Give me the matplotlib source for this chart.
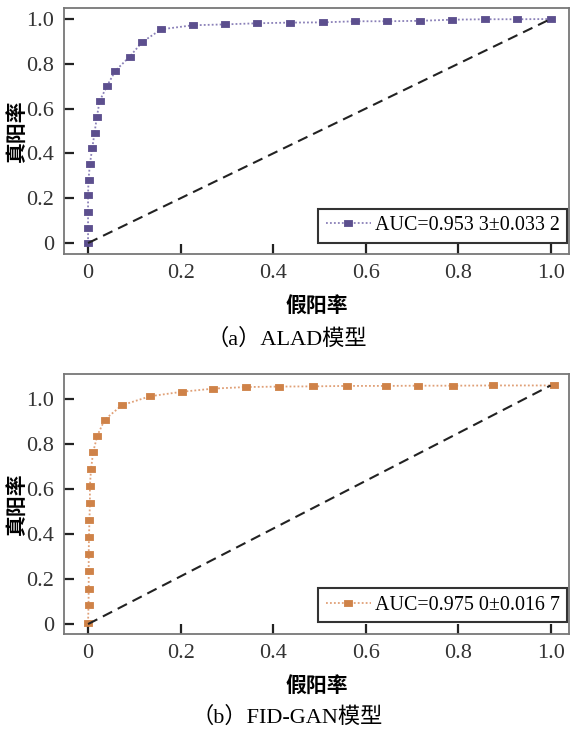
import matplotlib
matplotlib.use("Agg")
import matplotlib.pyplot as plt

plt.rcParams["font.family"] = ["Liberation Serif", "Noto Sans CJK SC"]
plt.rcParams["axes.unicode_minus"] = False

# ALAD ROC points
alad_fpr = [0, 0, 0, 0, 0.001, 0.004, 0.009, 0.014, 0.019, 0.025, 0.041, 0.059,
            0.090, 0.117, 0.158, 0.226, 0.295, 0.366, 0.436, 0.507, 0.577, 0.647,
            0.717, 0.787, 0.859, 0.928, 1.0]
alad_tpr = [0, 0.067, 0.138, 0.213, 0.283, 0.353, 0.423, 0.492, 0.562, 0.634,
            0.701, 0.769, 0.832, 0.897, 0.954, 0.972, 0.976, 0.981, 0.984, 0.985,
            0.990, 0.990, 0.992, 0.997, 0.999, 0.999, 1.0]

# FID-GAN ROC points
fid_fpr = [0, 0.001, 0.0014, 0.0014, 0.0014, 0.002, 0.003, 0.004, 0.004, 0.0065,
           0.011, 0.020, 0.036, 0.073, 0.134, 0.203, 0.271, 0.341, 0.413, 0.487,
           0.559, 0.644, 0.714, 0.790, 0.875, 1.007]
fid_tpr = [0.007, 0.083, 0.157, 0.234, 0.311, 0.387, 0.464, 0.540, 0.614, 0.690,
           0.764, 0.837, 0.908, 0.972, 1.012, 1.032, 1.046, 1.053, 1.055, 1.056,
           1.058, 1.058, 1.059, 1.059, 1.060, 1.060]

diag_x = [0, 1.0]
alad_diag_y = [0, 1.0]
fid_diag_y = [0, 1.06]

ticks = [0, 0.2, 0.4, 0.6, 0.8, 1.0]
tick_labels = ["0", "0.2", "0.4", "0.6", "0.8", "1.0"]

# slightly flattened square marker, like the source figure
rect = [(-1.2, -0.75), (1.2, -0.75), (1.2, 0.75), (-1.2, 0.75), (-1.2, -0.75)]


def draw_panel(ax, fpr, tpr, diag_y, color, line_color, label, ylim):
    ax.plot(fpr, tpr, linestyle=(0, (1, 1.2)), color=line_color, lw=1.3,
            marker=rect, markersize=6.2, markerfacecolor=color,
            markeredgecolor=color, markeredgewidth=0.6, label=label)
    ax.plot(diag_x, diag_y, linestyle=(0, (5, 3)), color="#222222", lw=1.5)
    ax.set_xlim(-0.052, 1.04)
    ax.set_ylim(*ylim)
    ax.set_xticks(ticks)
    ax.set_xticklabels(tick_labels)
    ax.set_yticks(ticks)
    ax.set_yticklabels(tick_labels)
    ax.tick_params(direction="in", length=7, width=1.6, labelsize=16,
                   colors="#222222", labelcolor="#333333", pad=7)
    for s in ax.spines.values():
        s.set_color("#777777")
        s.set_linewidth(1.3)
    ax.set_ylabel("真阳率", fontsize=15, fontweight="bold")
    ax.yaxis.set_label_coords(-0.072, 0.5)
    ax.set_xlabel("假阳率", fontsize=15, fontweight="bold", labelpad=10)
    leg = ax.legend(loc="lower right", bbox_to_anchor=(0.996, 0.045), fontsize=14.4,
                    frameon=True, fancybox=False, handlelength=2.25,
                    borderpad=0.38, handletextpad=0.2, borderaxespad=0)
    leg.get_frame().set_edgecolor("black")
    leg.get_frame().set_linewidth(1.5)


fig = plt.figure(figsize=(5.74, 7.31), dpi=100)
ax1 = fig.add_axes([0.1115, 0.6525, 0.880, 0.3365])
ax2 = fig.add_axes([0.1115, 0.1327, 0.880, 0.3557])

draw_panel(ax1, alad_fpr, alad_tpr, alad_diag_y, "#5c4f8e", "#8a80b8",
           "AUC=0.953 3±0.033 2", (-0.049, 1.049))
draw_panel(ax2, fid_fpr, fid_tpr, fid_diag_y, "#cf8248", "#e0a077",
           "AUC=0.975 0±0.016 7", (-0.044, 1.111))

fig.text(0.5, (731 - 339) / 731, "（a）ALAD模型", ha="center", va="center", fontsize=16)
fig.text(0.5, (731 - 717) / 731, "（b）FID-GAN模型", ha="center", va="center", fontsize=16)

fig.savefig("out.png", dpi=100)
